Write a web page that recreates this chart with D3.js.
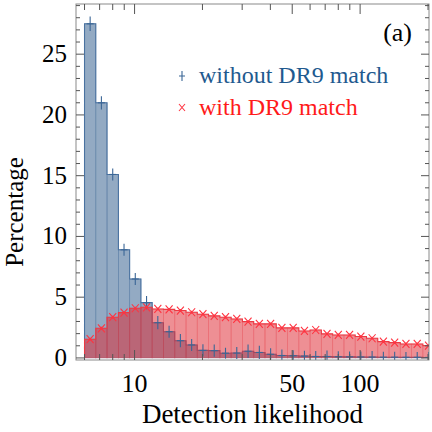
<!DOCTYPE html>
<html lang="en">
<head>
<meta charset="utf-8">
<title>Detection likelihood histogram</title>
<script src="https://cdn.jsdelivr.net/npm/d3@7"></script>
<style>
  body { margin: 0; background: #fff; }
  text { font-family: "Liberation Serif", "DejaVu Serif", serif; }
</style>
</head>
<body>
<div id="chart"></div>
<script>
// bin edges of the histogram (detection likelihood, log-spaced)
var binEdges = [6.0, 6.73, 7.55, 8.48, 9.51, 10.67, 11.97, 13.43, 15.07, 16.91, 18.97,
                21.29, 23.89, 26.8, 30.07, 33.74, 37.86, 42.48, 47.66, 53.48, 60.0,
                67.32, 75.54, 84.76, 95.1, 106.7, 119.7, 134.3, 150.7, 169.1, 189.7, 212.9];

// percentage per bin, without DR9 match
var noMatch = [27.5, 21.0, 15.1, 8.9, 6.5, 4.55, 2.9, 2.16, 1.42, 1.07, 0.62,
               0.6, 0.39, 0.4, 0.55, 0.45, 0.3, 0.2, 0.18, 0.15, 0.12,
               0.12, 0.1, 0.09, 0.08, 0.07, 0.06, 0.06, 0.05, 0.05, 0.04];
var noMatchErr = [0.35, 0.3, 0.25, 0.25, 0.25, 0.3, 0.3, 0.25, 0.3, 0.25, 0.25,
                  0.25, 0.2, 0.25, 0.3, 0.3, 0.25, 0.25, 0.2, 0.2, 0.2,
                  0.25, 0.2, 0.2, 0.2, 0.25, 0.2, 0.2, 0.2, 0.2, 0.2];

// percentage per bin, with DR9 match
var withMatch = [1.54, 2.44, 3.35, 3.73, 4.09, 4.17, 4.03, 4.0, 3.9, 3.76, 3.6,
                 3.46, 3.35, 3.21, 2.99, 2.8, 2.8, 2.47, 2.47, 2.22, 2.3,
                 1.98, 1.89, 1.89, 1.76, 1.62, 1.34, 1.26, 1.15, 1.15, 1.01];
var withMatchErr = [0.12, 0.12, 0.12, 0.12, 0.12, 0.12, 0.12, 0.12, 0.12, 0.12, 0.12,
                    0.12, 0.12, 0.12, 0.12, 0.12, 0.12, 0.12, 0.12, 0.12, 0.12,
                    0.12, 0.12, 0.12, 0.12, 0.12, 0.12, 0.12, 0.12, 0.12, 0.12];

var xMajor = [10, 50, 100];
var xMinor = [6, 7, 8, 9, 20, 30, 40, 60, 70, 80, 90, 200];
var yMajor = [0, 5, 10, 15, 20, 25];
var yMinor = d3.range(0, 30);

var W = 432, H = 432;
var margin = {top: 4, right: 3, bottom: 72, left: 76};
var iw = W - margin.left - margin.right,
    ih = H - margin.top - margin.bottom;

var x = d3.scaleLog().domain([5.5, 202]).range([0, iw]);
var y = d3.scaleLinear().domain([-0.17, 29.13]).range([ih, 0]);

var svg = d3.select("#chart").append("svg")
    .attr("width", W).attr("height", H);

var g = svg.append("g")
    .attr("transform", "translate(" + margin.left + "," + margin.top + ")");

svg.append("defs").append("clipPath").attr("id", "clip")
  .append("rect").attr("width", iw).attr("height", ih);

var plot = g.append("g").attr("clip-path", "url(#clip)");

function bars(vals) {
  return vals.map(function(v, i) {
    return {x0: binEdges[i], x1: binEdges[i + 1], v: v, i: i};
  });
}

// histogram bars
function drawHist(vals, fill, edge, line) {
  var data = bars(vals);
  plot.append("g").selectAll("rect")
    .data(data).enter().append("rect")
      .attr("x", function(d) { return x(d.x0); })
      .attr("width", function(d) { return x(d.x1) - x(d.x0); })
      .attr("y", function(d) { return y(d.v); })
      .attr("height", function(d) { return y(0) - y(d.v); })
      .attr("fill", fill)
      .attr("stroke", edge)
      .attr("stroke-width", 0.8);
  // outline as a step
  var pts = [[data[0].x0, 0]];
  data.forEach(function(d) { pts.push([d.x0, d.v]); pts.push([d.x1, d.v]); });
  plot.append("path")
    .attr("d", d3.line().x(function(p) { return x(p[0]); }).y(function(p) { return y(p[1]); })(pts))
    .attr("fill", "none").attr("stroke", line).attr("stroke-width", 1.1);
}

drawHist(noMatch, "rgba(40,85,135,0.5)", "rgba(60,100,150,0.35)", "#4a72a0");
drawHist(withMatch, "rgba(222,40,50,0.52)", "rgba(230,60,70,0.3)", "#ec3a44");

function mid(d) { return Math.sqrt(d.x0 * d.x1); }

// error bars + markers, without match ("+")
var bm = plot.append("g").attr("stroke", "#3a6696").attr("stroke-width", 1.1);
bars(noMatch).forEach(function(d) {
  var cx = x(mid(d));
  bm.append("line").attr("x1", cx).attr("x2", cx)
    .attr("y1", y(d.v - noMatchErr[d.i]) + 3).attr("y2", y(d.v + noMatchErr[d.i]) - 3);
  bm.append("line").attr("x1", cx - 3.5).attr("x2", cx + 3.5)
    .attr("y1", y(d.v)).attr("y2", y(d.v));
});

// error bars + markers, with match ("x")
var rm = plot.append("g").attr("stroke", "#ff3340").attr("stroke-width", 1.1);
bars(withMatch).forEach(function(d) {
  var cx = x(mid(d)), cy = y(d.v);
  rm.append("line").attr("x1", cx).attr("x2", cx)
    .attr("y1", y(d.v - withMatchErr[d.i])).attr("y2", y(d.v + withMatchErr[d.i]));
  rm.append("path")
    .attr("d", "M" + (cx - 3.5) + "," + (cy - 4) + "L" + (cx + 3.5) + "," + (cy + 4) +
               "M" + (cx - 3.5) + "," + (cy + 4) + "L" + (cx + 3.5) + "," + (cy - 4))
    .attr("fill", "none");
});

// frame
g.append("rect").attr("width", iw).attr("height", ih)
  .attr("fill", "none").attr("stroke", "#8a8a8a").attr("stroke-width", 1);

// ticks (inward on all four sides)
var tk = g.append("g").attr("stroke", "#555").attr("stroke-width", 1);
xMajor.concat(xMinor).forEach(function(v) {
  var len = xMajor.indexOf(v) >= 0 ? 10 : 6;
  tk.append("line").attr("x1", x(v)).attr("x2", x(v)).attr("y1", ih).attr("y2", ih - len);
  tk.append("line").attr("x1", x(v)).attr("x2", x(v)).attr("y1", 0).attr("y2", len);
});
yMinor.forEach(function(v) {
  if (y(v) < 0) return;
  var len = yMajor.indexOf(v) >= 0 ? 8 : 4;
  tk.append("line").attr("x1", 0).attr("x2", len).attr("y1", y(v)).attr("y2", y(v));
  tk.append("line").attr("x1", iw).attr("x2", iw - len).attr("y1", y(v)).attr("y2", y(v));
});

// tick labels
g.append("g").selectAll("text").data(xMajor).enter().append("text")
  .attr("x", function(d) { return x(d); })
  .attr("y", ih + 32)
  .attr("text-anchor", "middle")
  .attr("font-size", 26)
  .text(function(d) { return d; });

g.append("g").selectAll("text").data(yMajor).enter().append("text")
  .attr("x", -9)
  .attr("y", function(d) { return y(d) + 8; })
  .attr("text-anchor", "end")
  .attr("font-size", 25)
  .text(function(d) { return d; });

// axis titles
svg.append("text")
  .attr("x", margin.left + iw / 2)
  .attr("y", 423)
  .attr("text-anchor", "middle")
  .attr("font-size", 27)
  .text("Detection likelihood");

svg.append("text")
  .attr("transform", "translate(23,212) rotate(-90)")
  .attr("text-anchor", "middle")
  .attr("font-size", 25)
  .text("Percentage");

// panel label
svg.append("text").attr("x", 412).attr("y", 41)
  .attr("text-anchor", "end").attr("font-size", 26).text("(a)");

// legend
var lg = svg.append("g");
lg.append("path").attr("d", "M182,71V81M179,76H185")
  .attr("stroke", "#3a6696").attr("stroke-width", 1.1);
lg.append("text").attr("x", 199).attr("y", 83).attr("font-size", 24)
  .attr("fill", "#1f5a8f").text("without DR9 match");
lg.append("path").attr("d", "M179,104L185,111M179,111L185,104")
  .attr("stroke", "#ff3340").attr("stroke-width", 1.1).attr("fill", "none");
lg.append("text").attr("x", 199).attr("y", 115).attr("font-size", 24)
  .attr("fill", "#ff1a1a").text("with DR9 match");
</script>
</body>
</html>
